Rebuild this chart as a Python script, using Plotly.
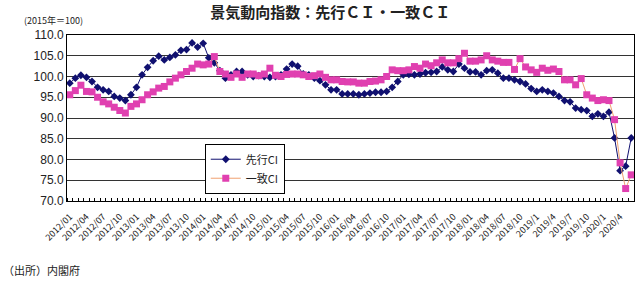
import plotly.graph_objects as go

# Months 2012/01 .. 2020/06
months = [f"{y}/{m:02d}" for y in range(2012, 2021) for m in range(1, 13)][:102]

leading_ci = [
    98.4, 99.6, 100.3, 99.8, 98.8, 97.4, 96.8, 96.4, 95.2, 94.8, 94.2, 95.6,
    97.4, 100.4, 102.2, 103.8, 104.9, 104.0, 104.6, 105.2, 106.3, 106.5, 108.1, 107.1,
    108.0, 104.5, 103.3, 101.4, 99.6, 100.4, 101.2, 101.2, 100.4, 100.0, 100.2, 100.0,
    99.8, 100.0, 100.4, 101.8, 103.0, 102.5, 100.6, 100.4, 99.6, 99.0, 98.0, 96.8,
    96.8, 95.8, 95.8, 95.8, 95.6, 95.8, 96.0, 96.2, 96.2, 96.4, 97.4, 98.8,
    100.4, 100.5, 100.4, 100.6, 100.9, 101.0, 101.2, 102.3, 101.6, 101.2, 103.0, 102.0,
    101.1, 101.1, 100.4, 101.4, 101.6, 100.8, 99.6, 99.6, 99.2, 98.8, 98.2, 97.1,
    96.4, 96.8, 96.4, 96.0, 95.2, 94.2, 93.9, 92.4, 92.0, 91.8, 90.4, 91.0,
    90.4, 91.4, 85.2, 77.3, 78.4, 85.2,
]

coincident_ci = [
    95.6, 96.6, 97.9, 96.4, 96.3, 95.0, 93.9, 93.4, 92.6, 91.8, 91.2, 92.8,
    93.4, 94.4, 95.6, 96.3, 97.2, 97.6, 98.7, 99.6, 100.4, 101.2, 102.0, 103.0,
    102.8, 103.0, 104.8, 101.2, 100.6, 99.8, 100.6, 99.8, 100.6, 100.6, 100.2, 100.6,
    102.0, 100.3, 100.0, 100.5, 100.6, 100.6, 100.4, 100.0, 100.2, 100.6, 99.8, 99.2,
    99.2, 98.8, 98.7, 98.7, 98.4, 98.4, 98.8, 98.9, 99.2, 100.0, 101.6, 101.4,
    101.4, 101.6, 102.4, 102.0, 103.0, 102.6, 103.3, 104.0, 103.3, 103.3, 104.3, 105.6,
    103.7, 103.7, 104.0, 105.0, 104.0, 103.7, 103.4, 103.4, 101.7, 104.3, 102.3, 101.6,
    101.0, 102.0, 101.5, 101.8, 101.2, 99.2, 99.2, 98.0, 99.5, 95.6, 94.8, 94.2,
    94.4, 94.2, 89.6, 79.2, 73.0, 76.3,
]

tick_labels = [
    "2012/01", "2012/04", "2012/07", "2012/10",
    "2013/01", "2013/04", "2013/07", "2013/10",
    "2014/01", "2014/04", "2014/07", "2014/10",
    "2015/01", "2015/04", "2015/07", "2015/10",
    "2016/01", "2016/04", "2016/07", "2016/10",
    "2017/01", "2017/04", "2017/07", "2017/10",
    "2018/01", "2018/04", "2018/07", "2018/10",
    "2019/1", "2019/4", "2019/7", "2019/10",
    "2020/1", "2020/4",
]

y_ticks = [70, 75, 80, 85, 90, 95, 100, 105, 110]

x_idx = list(range(len(months)))
tick_pos = [i * 3 for i in range(len(tick_labels))]

JP = "Noto Sans CJK JP"

fig = go.Figure()
fig.add_trace(go.Scatter(
    x=x_idx, y=leading_ci, name="先行CI", mode="lines+markers",
    line=dict(color="#101070", width=1),
    marker=dict(symbol="diamond", size=6, color="#101070"),
    customdata=months,
))
fig.add_trace(go.Scatter(
    x=x_idx, y=coincident_ci, name="一致CI", mode="lines+markers",
    line=dict(color="#f0a070", width=1),
    marker=dict(symbol="square", size=7, color="#e040b0"),
    customdata=months,
))

fig.update_layout(
    width=640, height=284,
    margin=dict(l=67, r=6, t=35, b=83),
    paper_bgcolor="white", plot_bgcolor="white",
    title=dict(text="<b>景気動向指数：先行ＣＩ・一致ＣＩ</b>", x=0.516, xref="container",
               y=0.955, yref="container", xanchor="center", yanchor="middle",
               font=dict(family=JP, size=15, color="#222222")),
    font=dict(family=JP, color="#222222"),
    legend=dict(x=0.243, y=0.345, xanchor="left", yanchor="top",
                bgcolor="white", bordercolor="black", borderwidth=1,
                font=dict(family=JP, size=11, color="#222222"),
                tracegroupgap=0, itemwidth=30),
    showlegend=True,
)

fig.update_xaxes(
    range=[-0.5, len(months) - 0.5],
    tickmode="array", tickvals=tick_pos, ticktext=tick_labels,
    tickangle=-45, tickfont=dict(family=JP, size=9, color="#222222"),
    ticklabelstandoff=6,
    ticks="", showgrid=False, zeroline=False,
    showline=True, linecolor="black", linewidth=1, mirror=True,
    minor=dict(ticks="inside", ticklen=3, tickcolor="black", tickwidth=1,
               dtick=1, tick0=0.5, showgrid=False),
)
fig.update_yaxes(
    range=[70, 110], tickmode="array", tickvals=y_ticks,
    ticktext=[f"{v:.1f}" for v in y_ticks],
    tickfont=dict(family="Liberation Sans", size=12, color="#222222"),
    showgrid=True, gridcolor="#333333", gridwidth=1, zeroline=False,
    showline=True, linecolor="black", linewidth=1, mirror=True, ticks="",
)

fig.add_annotation(text="(2015年＝100)", xref="paper", yref="paper",
                   x=-0.079, y=1.09, xanchor="left", yanchor="middle",
                   showarrow=False, font=dict(family=JP, size=9, color="#222222"))
fig.add_annotation(text="（出所）内閣府", xref="paper", yref="paper",
                   x=-0.116, y=-0.416, xanchor="left", yanchor="middle",
                   showarrow=False, font=dict(family=JP, size=11, color="#222222"))

fig.write_html("out.html")
